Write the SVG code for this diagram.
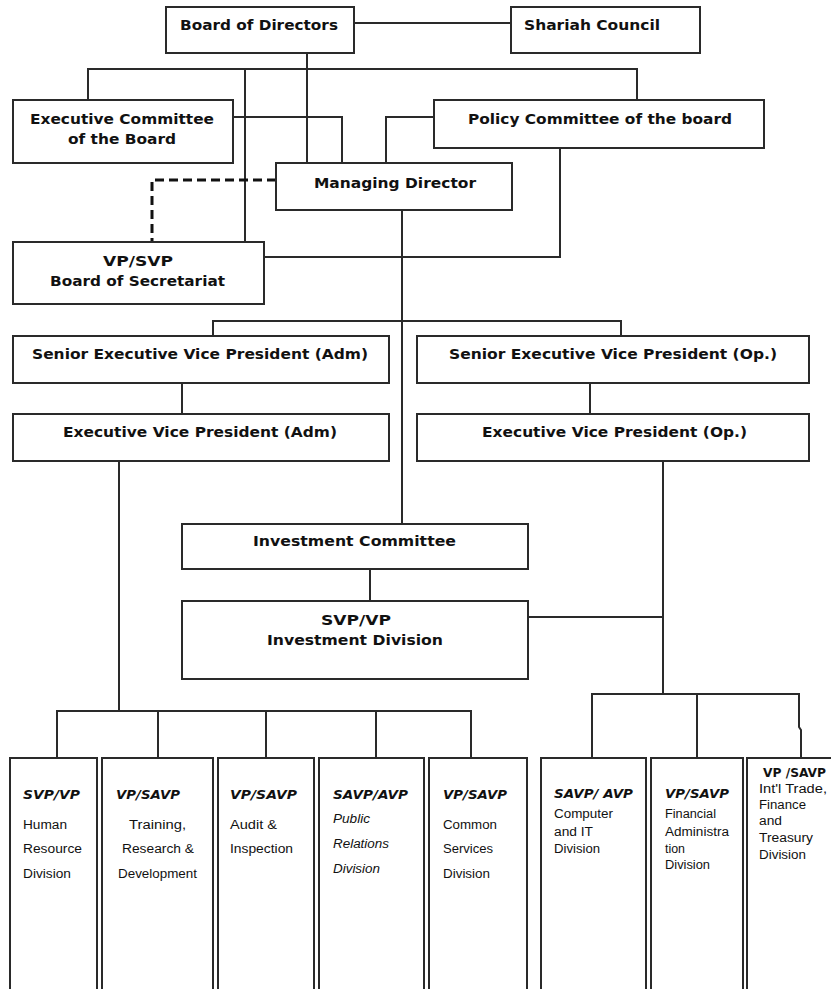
<svg xmlns="http://www.w3.org/2000/svg" width="831" height="989" viewBox="0 0 831 989">
<style>
.box{fill:#fff;stroke:#2a2a2a;stroke-width:2}
.ln{fill:none;stroke:#2a2a2a;stroke-width:2}
.dash{fill:none;stroke:#111;stroke-width:3;stroke-dasharray:9 5}
.t{font-family:"DejaVu Sans",Verdana,sans-serif;font-weight:bold;font-size:14px;fill:#111}
.s{font-family:"Liberation Sans",Arial,sans-serif;font-size:12px;fill:#111}
.h{font-family:"DejaVu Sans",Verdana,sans-serif;font-size:12px;font-weight:bold;font-style:italic;fill:#111}
.i{font-style:italic}
</style>
<rect width="831" height="989" fill="#fff"/>
<g id="connectors">
<path class="ln" d="M354 23 H511"/>
<path class="ln" d="M307 53 V163"/>
<path class="ln" d="M88 100 V69 H637 V100"/>
<path class="ln" d="M245 69 V242"/>
<path class="ln" d="M233 117 H342 V163"/>
<path class="ln" d="M386 163 V117 H434"/>
<path class="ln" d="M560 148 V257 H264"/>
<path class="dash" d="M276 180 H152 V242"/>
<path class="ln" d="M402 210 V524"/>
<path class="ln" d="M213 336 V321 H621 V336"/>
<path class="ln" d="M182 383 V414"/>
<path class="ln" d="M590 383 V414"/>
<path class="ln" d="M370 569 V601"/>
<path class="ln" d="M528 617 H663"/>
<path class="ln" d="M119 461 V711"/>
<path class="ln" d="M57 758 V711 H471 V758"/>
<path class="ln" d="M158 711 V758 M266 711 V758 M376 711 V758"/>
<path class="ln" d="M663 461 V694"/>
<path class="ln" d="M592 758 V694 H799 V727 L801 730 V758"/>
<path class="ln" d="M697 694 V758"/>
</g>
<g id="board">
<rect class="box" x="166" y="7" width="188" height="46"/>
<text class="t" x="180" y="30" textLength="158" lengthAdjust="spacingAndGlyphs">Board of Directors</text>
</g>
<g id="shariah">
<rect class="box" x="511" y="7" width="189" height="46"/>
<text class="t" x="524" y="30" textLength="136" lengthAdjust="spacingAndGlyphs">Shariah Council</text>
</g>
<g id="exec-committee">
<rect class="box" x="13" y="100" width="220" height="63"/>
<text class="t" x="30" y="124" textLength="184" lengthAdjust="spacingAndGlyphs">Executive Committee</text>
<text class="t" x="68" y="144" textLength="108" lengthAdjust="spacingAndGlyphs">of the Board</text>
</g>
<g id="policy">
<rect class="box" x="434" y="100" width="330" height="48"/>
<text class="t" x="468" y="124" textLength="264" lengthAdjust="spacingAndGlyphs">Policy Committee of the board</text>
</g>
<g id="md">
<rect class="box" x="276" y="163" width="236" height="47"/>
<text class="t" x="314" y="188" textLength="162" lengthAdjust="spacingAndGlyphs">Managing Director</text>
</g>
<g id="secretariat">
<rect class="box" x="13" y="242" width="251" height="62"/>
<text class="t" x="103" y="266" textLength="70" lengthAdjust="spacingAndGlyphs">VP/SVP</text>
<text class="t" x="50" y="286" textLength="175" lengthAdjust="spacingAndGlyphs">Board of Secretariat</text>
</g>
<g id="sevp-adm">
<rect class="box" x="13" y="336" width="376" height="47"/>
<text class="t" x="32" y="359" textLength="336" lengthAdjust="spacingAndGlyphs">Senior Executive Vice President (Adm)</text>
</g>
<g id="sevp-op">
<rect class="box" x="417" y="336" width="392" height="47"/>
<text class="t" x="449" y="359" textLength="328" lengthAdjust="spacingAndGlyphs">Senior Executive Vice President (Op.)</text>
</g>
<g id="evp-adm">
<rect class="box" x="13" y="414" width="376" height="47"/>
<text class="t" x="63" y="437" textLength="274" lengthAdjust="spacingAndGlyphs">Executive Vice President (Adm)</text>
</g>
<g id="evp-op">
<rect class="box" x="417" y="414" width="392" height="47"/>
<text class="t" x="482" y="437" textLength="265" lengthAdjust="spacingAndGlyphs">Executive Vice President (Op.)</text>
</g>
<g id="inv-committee">
<rect class="box" x="182" y="524" width="346" height="45"/>
<text class="t" x="253" y="546" textLength="203" lengthAdjust="spacingAndGlyphs">Investment Committee</text>
</g>
<g id="inv-division">
<rect class="box" x="182" y="601" width="346" height="78"/>
<text class="t" x="321" y="625" textLength="70" lengthAdjust="spacingAndGlyphs">SVP/VP</text>
<text class="t" x="267" y="645" textLength="176" lengthAdjust="spacingAndGlyphs">Investment Division</text>
</g>
<g id="hr">
<rect class="box" x="10" y="758" width="87" height="240"/>
<text class="h" x="23" y="799" textLength="57" lengthAdjust="spacingAndGlyphs">SVP/VP</text>
<text class="s" x="23" y="829" textLength="44" lengthAdjust="spacingAndGlyphs">Human</text>
<text class="s" x="23" y="853" textLength="59" lengthAdjust="spacingAndGlyphs">Resource</text>
<text class="s" x="23" y="878" textLength="48" lengthAdjust="spacingAndGlyphs">Division</text>
</g>
<g id="training">
<rect class="box" x="102" y="758" width="111" height="240"/>
<text class="h" x="116" y="799" textLength="64" lengthAdjust="spacingAndGlyphs">VP/SAVP</text>
<text class="s" x="129" y="829" textLength="57" lengthAdjust="spacingAndGlyphs">Training,</text>
<text class="s" x="122" y="853" textLength="72" lengthAdjust="spacingAndGlyphs">Research &amp;</text>
<text class="s" x="118" y="878" textLength="79" lengthAdjust="spacingAndGlyphs">Development</text>
</g>
<g id="audit">
<rect class="box" x="218" y="758" width="96" height="240"/>
<text class="h" x="230" y="799" textLength="67" lengthAdjust="spacingAndGlyphs">VP/SAVP</text>
<text class="s" x="230" y="829" textLength="47" lengthAdjust="spacingAndGlyphs">Audit &amp;</text>
<text class="s" x="230" y="853" textLength="63" lengthAdjust="spacingAndGlyphs">Inspection</text>
</g>
<g id="pr">
<rect class="box" x="319" y="758" width="105" height="240"/>
<text class="h" x="333" y="799" textLength="75" lengthAdjust="spacingAndGlyphs">SAVP/AVP</text>
<text class="s i" x="333" y="823" textLength="37" lengthAdjust="spacingAndGlyphs">Public</text>
<text class="s i" x="333" y="848" textLength="56" lengthAdjust="spacingAndGlyphs">Relations</text>
<text class="s i" x="333" y="873" textLength="47" lengthAdjust="spacingAndGlyphs">Division</text>
</g>
<g id="common">
<rect class="box" x="429" y="758" width="98" height="240"/>
<text class="h" x="443" y="799" textLength="64" lengthAdjust="spacingAndGlyphs">VP/SAVP</text>
<text class="s" x="443" y="829" textLength="54" lengthAdjust="spacingAndGlyphs">Common</text>
<text class="s" x="443" y="853" textLength="50" lengthAdjust="spacingAndGlyphs">Services</text>
<text class="s" x="443" y="878" textLength="47" lengthAdjust="spacingAndGlyphs">Division</text>
</g>
<g id="it">
<rect class="box" x="541" y="758" width="105" height="240"/>
<text class="h" x="554" y="798" textLength="79" lengthAdjust="spacingAndGlyphs">SAVP/ AVP</text>
<text class="s" x="554" y="818" textLength="59" lengthAdjust="spacingAndGlyphs">Computer</text>
<text class="s" x="554" y="836" textLength="39" lengthAdjust="spacingAndGlyphs">and IT</text>
<text class="s" x="554" y="853" textLength="46" lengthAdjust="spacingAndGlyphs">Division</text>
</g>
<g id="finance-admin">
<rect class="box" x="651" y="758" width="92" height="240"/>
<text class="h" x="665" y="798" textLength="64" lengthAdjust="spacingAndGlyphs">VP/SAVP</text>
<text class="s" x="665" y="818" textLength="51" lengthAdjust="spacingAndGlyphs">Financial</text>
<text class="s" x="665" y="836" textLength="64" lengthAdjust="spacingAndGlyphs">Administra</text>
<text class="s" x="665" y="853" textLength="20" lengthAdjust="spacingAndGlyphs">tion</text>
<text class="s" x="665" y="869" textLength="45" lengthAdjust="spacingAndGlyphs">Division</text>
</g>
<g id="treasury">
<rect class="box" x="747" y="758" width="100" height="240"/>
<text class="t" style="font-size:12px" x="763" y="777" textLength="63" lengthAdjust="spacingAndGlyphs">VP /SAVP</text>
<text class="s" x="759" y="793" textLength="68" lengthAdjust="spacingAndGlyphs">Int'l Trade,</text>
<text class="s" x="759" y="809" textLength="47" lengthAdjust="spacingAndGlyphs">Finance</text>
<text class="s" x="759" y="825" textLength="23" lengthAdjust="spacingAndGlyphs">and</text>
<text class="s" x="759" y="842" textLength="54" lengthAdjust="spacingAndGlyphs">Treasury</text>
<text class="s" x="759" y="859" textLength="47" lengthAdjust="spacingAndGlyphs">Division</text>
</g>
</svg>
